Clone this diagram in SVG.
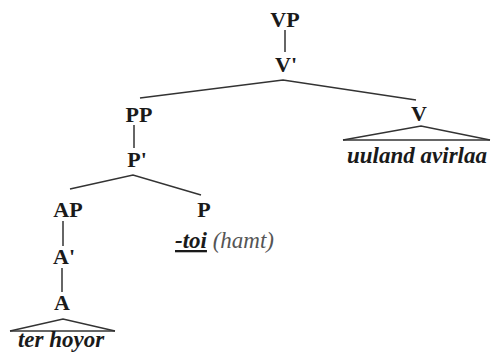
<svg xmlns="http://www.w3.org/2000/svg" width="493" height="360" viewBox="0 0 493 360">
<style>
.n{font-family:"Liberation Serif","Times New Roman",serif;font-weight:bold;font-size:22px;fill:#1a1a1a;text-anchor:middle}
.w{font-family:"Liberation Serif","Times New Roman",serif;font-weight:bold;font-style:italic;font-size:23px;fill:#1a1a1a;text-anchor:middle}
.g{font-family:"Liberation Serif","Times New Roman",serif;font-style:italic;font-size:23px;fill:#555}
.l{stroke:#333;stroke-width:1.5;fill:none}
</style>
<rect width="493" height="360" fill="#fff"/>
<g id="connectors" class="l">
<line x1="285" y1="30" x2="285" y2="52"/>
<polyline points="140,98 283,80 416,100"/>
<polyline points="343,140 421,126 490,140"/>
<line x1="343" y1="140" x2="490" y2="140"/>
<line x1="134" y1="125" x2="134" y2="148"/>
<polyline points="70,189 133,175 201,195"/>
<line x1="63" y1="221" x2="63" y2="246"/>
<line x1="62" y1="268" x2="62" y2="292"/>
<polyline points="10,331 63,319 115,331"/>
<line x1="10" y1="331" x2="115" y2="331"/>
</g>
<g id="VP"><text class="n" x="285" y="27">VP</text></g>
<g id="Vbar"><text class="n" x="286" y="72">V'</text></g>
<g id="PP"><text class="n" x="139" y="122">PP</text></g>
<g id="V"><text class="n" x="419" y="121">V</text></g>
<g id="V-word"><text class="w" x="417" y="163">uuland avirlaa</text></g>
<g id="Pbar"><text class="n" x="137" y="167">P'</text></g>
<g id="AP"><text class="n" x="68" y="217">AP</text></g>
<g id="P"><text class="n" x="204" y="217">P</text></g>
<g id="P-word"><text x="175" y="248"><tspan class="w" style="text-anchor:start" text-decoration="underline">-toi</tspan><tspan class="g"> (hamt)</tspan></text></g>
<g id="Abar"><text class="n" x="64" y="264">A'</text></g>
<g id="A"><text class="n" x="62" y="310">A</text></g>
<g id="A-word"><text class="w" x="61" y="347">ter hoyor</text></g>
</svg>
